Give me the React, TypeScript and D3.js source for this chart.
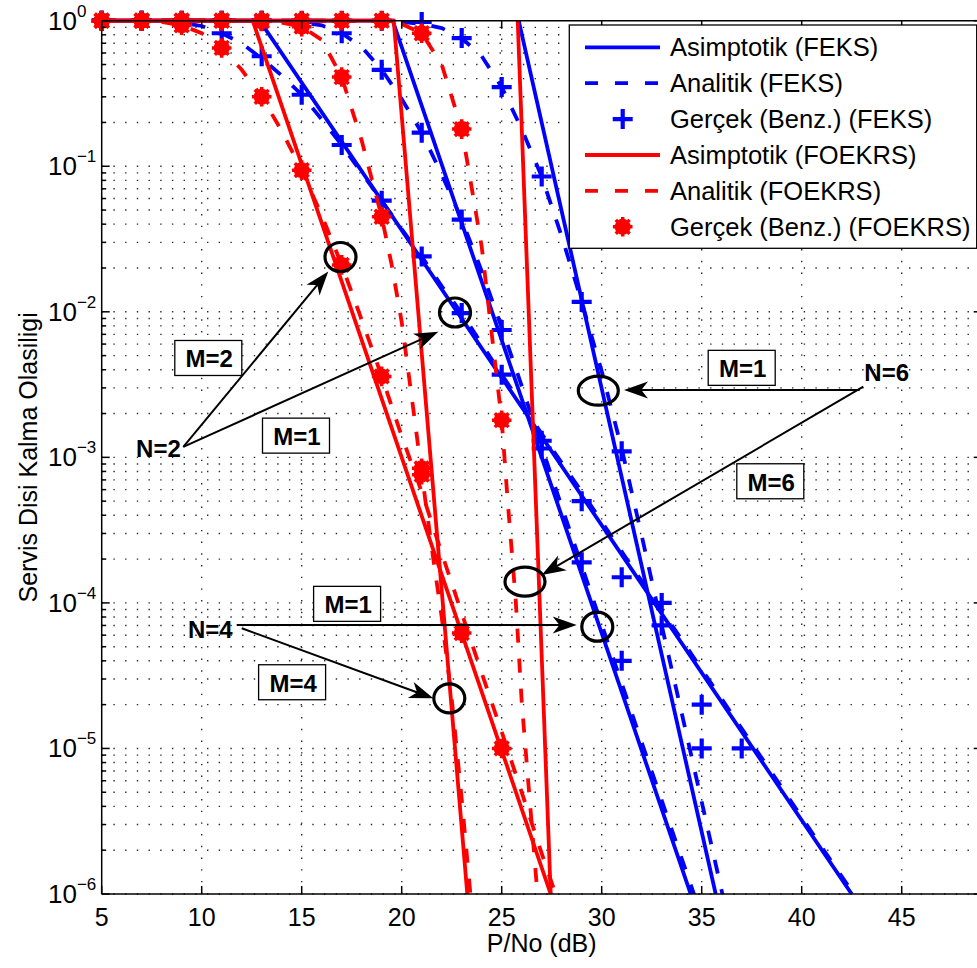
import React from 'react';
import * as d3 from 'd3';

// ---------------- DATA (P/No in dB, outage probability) ----------------
// FEKS (blue)
const feksN2AsymX = [5, 12.9, 42.5];
const feksN2AsymY = [1, 1, 1e-6];
const feksN4AsymX = [5, 19.55, 34.45];
const feksN4AsymY = [1, 1, 1e-6];
const feksN6AsymX = [25.85, 35.7];
const feksN6AsymY = [1, 1e-6];

const feksN2AnaX = [5, 7, 8, 9, 10, 11, 12, 13, 14, 15, 16, 17, 18, 19, 20, 21, 22, 23, 24, 25, 27, 29, 31, 33, 35, 37, 39, 41, 43];
const feksN2AnaY = [1, 0.998, 0.99, 0.97, 0.92, 0.82, 0.7, 0.55, 0.42, 0.31, 0.21, 0.14, 0.09, 0.058, 0.037, 0.024, 0.015, 0.0098, 0.006, 0.0037, 0.00145, 5.8e-4, 2.25e-4, 8.9e-5, 3.5e-5, 1.37e-5, 5.4e-6, 2.1e-6, 8.3e-7];
const feksN4AnaX = [5, 10, 12, 13, 14, 15, 16, 17, 18, 19, 20, 21, 22, 23, 24, 25, 26, 27, 28, 29, 30, 31, 32, 33, 34, 35];
const feksN4AnaY = [1, 1, 0.999, 0.997, 0.99, 0.97, 0.93, 0.82, 0.66, 0.46, 0.29, 0.17, 0.088, 0.043, 0.019, 0.0078, 0.0031, 0.00118, 4.6e-4, 1.8e-4, 7.1e-5, 2.8e-5, 1.1e-5, 4.4e-6, 1.75e-6, 7e-7];
const feksN6AnaX = [5, 15, 17, 18, 19, 20, 21, 22, 23, 24, 25, 26, 27, 28, 29, 30, 31, 32, 33, 34, 35, 36, 36.5];
const feksN6AnaY = [1, 1, 0.999, 0.997, 0.99, 0.98, 0.95, 0.89, 0.76, 0.57, 0.35, 0.18, 0.085, 0.033, 0.0117, 0.0039, 0.00115, 2.9e-4, 7.0e-5, 1.75e-5, 4.3e-6, 1.05e-6, 5.2e-7];

const feksN2SimX = [5, 7, 9, 11, 13, 15, 17, 19, 21, 23, 25, 27, 29, 31, 33, 35, 37];
const feksN2SimY = [1, 1, 0.97, 0.82, 0.57, 0.31, 0.14, 0.058, 0.024, 0.0098, 0.0037, 0.0013, 5.0e-4, 1.5e-4, 1.0e-4, 2.0e-5, 1.0e-5];
const feksN4SimX = [5, 7, 9, 11, 13, 15, 17, 19, 21, 23, 25, 27, 29, 31];
const feksN4SimY = [1, 1, 1, 1, 1, 0.98, 0.82, 0.46, 0.17, 0.043, 0.0075, 0.00115, 1.9e-4, 4.0e-5];
const feksN6SimX = [5, 7, 9, 11, 13, 15, 17, 19, 21, 23, 25, 27, 29, 31, 33, 35];
const feksN6SimY = [1, 1, 1, 1, 1, 1, 1, 1, 0.98, 0.76, 0.35, 0.085, 0.0117, 0.0011, 7.0e-5, 1.0e-5];

// FOEKRS (red)
const foekrsN2M2AsymX = [5, 12.55, 27.45];
const foekrsN2M2AsymY = [1, 1, 1e-6];
const foekrsN4M4AsymX = [5, 19.6, 23.28];
const foekrsN4M4AsymY = [1, 1, 1e-6];
const foekrsN6M6AsymX = [25.8, 27.45];
const foekrsN6M6AsymY = [1, 1e-6];

const foekrsN2M2AnaX = [5, 7, 8, 9, 10, 11, 12, 13, 14, 15, 16, 17, 18, 19, 20, 21, 22, 23, 24, 25, 26, 27, 28];
const foekrsN2M2AnaY = [1, 0.995, 0.98, 0.93, 0.82, 0.65, 0.46, 0.3, 0.175, 0.094, 0.046, 0.021, 0.0088, 0.0036, 0.0014, 5.8e-4, 2.2e-4, 8.5e-5, 3.3e-5, 1.3e-5, 5.0e-6, 1.9e-6, 7.5e-7];
const foekrsN4M4AnaX = [5, 10, 12, 13, 14, 15, 16, 17, 18, 19, 19.5, 20, 20.5, 21, 21.5, 22, 22.5, 23, 23.5];
const foekrsN4M4AnaY = [1, 1, 0.999, 0.995, 0.97, 0.91, 0.74, 0.41, 0.15, 0.045, 0.021, 0.0085, 0.0026, 7.8e-4, 2.4e-4, 8.0e-5, 2.2e-5, 4.5e-6, 8.0e-7];
const foekrsN6M6AnaX = [5, 15, 17, 18, 19, 20, 21, 22, 23, 24, 25, 25.3, 25.7, 26, 26.35, 26.7, 27];
const foekrsN6M6AnaY = [1, 1, 0.999, 0.997, 0.99, 0.95, 0.82, 0.5, 0.18, 0.028, 0.0018, 5.0e-4, 1.05e-4, 2.1e-5, 5.4e-6, 1.4e-6, 4.5e-7];

const foekrsN2M2SimX = [5, 7, 9, 11, 13, 15, 17, 19, 21, 23, 25];
const foekrsN2M2SimY = [1, 1, 0.93, 0.65, 0.3, 0.094, 0.021, 0.0036, 7.6e-4, 6.2e-5, 1.0e-5];
const foekrsN4M4SimX = [5, 7, 9, 11, 13, 15, 17, 19, 21];
const foekrsN4M4SimY = [1, 1, 1, 1, 0.99, 0.91, 0.41, 0.045, 8.4e-4];
const foekrsN6M6SimX = [5, 7, 9, 11, 13, 15, 17, 19, 21, 23, 25];
const foekrsN6M6SimY = [1, 1, 1, 1, 1, 1, 1, 1, 0.82, 0.18, 0.0018];

// Axis ticks
const xTicks = [5, 10, 15, 20, 25, 30, 35, 40, 45];
const yTickExponents = [0, -1, -2, -3, -4, -5, -6];

// Legend entries
const legendLabels = [
  'Asimptotik (FEKS)',
  'Analitik (FEKS)',
  'Gerçek (Benz.) (FEKS)',
  'Asimptotik (FOEKRS)',
  'Analitik (FOEKRS)',
  'Gerçek (Benz.) (FOEKRS)',
];

// Annotations (data coordinates)
const ellipseCenters: [number, number][] = [
  [16.94, 0.0238],
  [22.665, 0.00989],
  [29.83, 0.00287],
  [26.165, 1.4e-4],
  [29.78, 6.86e-5],
  [22.38, 2.21e-5],
];
const arrowSegments: [[number, number], [number, number]][] = [
  [[9.08, 1.18e-3], [16.33, 0.0189]],
  [[9.08, 1.18e-3], [21.83, 0.0073]],
  [[11.75, 7.05e-5], [28.75, 7.05e-5]],
  [[12.0, 6.69e-5], [21.58, 2.21e-5]],
  [[42.9, 2.9e-3], [31.115, 2.9e-3]],
  [[43.08, 3.06e-3], [27.0, 1.556e-4]],
];
const nLabels: { text: string; at: [number, number] }[] = [
  { text: 'N=2', at: [7.835, 1.005e-3] },
  { text: 'N=4', at: [10.43, 5.74e-5] },
  { text: 'N=6', at: [44.25, 3.35e-3] },
];
const mBoxes: { text: string; at: [number, number] }[] = [
  { text: 'M=2', at: [10.33, 4.816e-3] },
  { text: 'M=1', at: [14.715, 1.41e-3] },
  { text: 'M=1', at: [17.27, 9.85e-5] },
  { text: 'M=4', at: [14.52, 2.85e-5] },
  { text: 'M=1', at: [37.0, 4.12e-3] },
  { text: 'M=6', at: [38.43, 6.85e-4] },
];

// ---------------- LAYOUT ----------------
const W = 977;
const H = 968;
const PL = 101.7;
const PR = 981.7;
const PT = 20.7;
const PB = 894;
const BLUE = '#0000ff';
const RED = '#ff0000';
const FONT = '"Liberation Sans", Arial, Helvetica, sans-serif';
const LW = 3.8;
const DASH = '14 16';

const zip = (xs: number[], ys: number[]) => xs.map((v, i) => [v, ys[i]] as [number, number]);

type Kind = 'solid' | 'dashed' | 'plus' | 'star';
interface Series { pts: [number, number][]; color: string; kind: Kind }

const series: Series[] = [
  { pts: zip(feksN2AsymX, feksN2AsymY), color: BLUE, kind: 'solid' },
  { pts: zip(feksN4AsymX, feksN4AsymY), color: BLUE, kind: 'solid' },
  { pts: zip(feksN6AsymX, feksN6AsymY), color: BLUE, kind: 'solid' },
  { pts: zip(feksN2AnaX, feksN2AnaY), color: BLUE, kind: 'dashed' },
  { pts: zip(feksN4AnaX, feksN4AnaY), color: BLUE, kind: 'dashed' },
  { pts: zip(feksN6AnaX, feksN6AnaY), color: BLUE, kind: 'dashed' },
  { pts: zip(feksN2SimX, feksN2SimY), color: BLUE, kind: 'plus' },
  { pts: zip(feksN4SimX, feksN4SimY), color: BLUE, kind: 'plus' },
  { pts: zip(feksN6SimX, feksN6SimY), color: BLUE, kind: 'plus' },
  { pts: zip(foekrsN2M2AsymX, foekrsN2M2AsymY), color: RED, kind: 'solid' },
  { pts: zip(foekrsN4M4AsymX, foekrsN4M4AsymY), color: RED, kind: 'solid' },
  { pts: zip(foekrsN6M6AsymX, foekrsN6M6AsymY), color: RED, kind: 'solid' },
  { pts: zip(foekrsN2M2AnaX, foekrsN2M2AnaY), color: RED, kind: 'dashed' },
  { pts: zip(foekrsN4M4AnaX, foekrsN4M4AnaY), color: RED, kind: 'dashed' },
  { pts: zip(foekrsN6M6AnaX, foekrsN6M6AnaY), color: RED, kind: 'dashed' },
  { pts: zip(foekrsN2M2SimX, foekrsN2M2SimY), color: RED, kind: 'star' },
  { pts: zip(foekrsN4M4SimX, foekrsN4M4SimY), color: RED, kind: 'star' },
  { pts: zip(foekrsN6M6SimX, foekrsN6M6SimY), color: RED, kind: 'star' },
];

const legendStyles: { color: string; kind: Kind }[] = [
  { color: BLUE, kind: 'solid' },
  { color: BLUE, kind: 'dashed' },
  { color: BLUE, kind: 'plus' },
  { color: RED, kind: 'solid' },
  { color: RED, kind: 'dashed' },
  { color: RED, kind: 'star' },
];

const Plus = ({ cx, cy, color }: { cx: number; cy: number; color: string }) => (
  <path d={`M${cx - 10},${cy}H${cx + 10}M${cx},${cy - 10}V${cy + 10}`} stroke={color} strokeWidth={4.2} fill="none" />
);

const Star = ({ cx, cy, color }: { cx: number; cy: number; color: string }) => {
  const spokes = [0, 45, 90, 135].map((a) => {
    const r = (a * Math.PI) / 180;
    const dx = Math.cos(r) * 9.8;
    const dy = Math.sin(r) * 9.8;
    return `M${cx - dx},${cy - dy}L${cx + dx},${cy + dy}`;
  });
  return (
    <g>
      <circle cx={cx} cy={cy} r={8} fill={color} />
      <path d={spokes.join('')} stroke={color} strokeWidth={3.5} />
    </g>
  );
};

export default function App() {
  const x = d3.scaleLinear().domain([5, 49]).range([PL, PR]);
  const y = d3.scaleLog().domain([1e-6, 1]).range([PB, PT]);
  const line = d3
    .line<[number, number]>()
    .x((d) => x(d[0]))
    .y((d) => y(d[1]));

  const yGrid: number[] = [];
  for (let e = -6; e < 0; e++) for (let m = 1; m <= 9; m++) yGrid.push(m * Math.pow(10, e));
  const yMajor = yTickExponents.map((e) => Math.pow(10, e));

  const arrowHead = (tx: number, ty: number, fx: number, fy: number) => {
    const ang = Math.atan2(ty - fy, tx - fx);
    const L = 24;
    const Wd = 8.5;
    const c = Math.cos(ang);
    const s = Math.sin(ang);
    const p = (a: number, b: number) => `${tx + a * c - b * s},${ty + a * s + b * c}`;
    return `M${p(0, 0)}L${p(-L, Wd)}L${p(-L * 0.72, 0)}L${p(-L, -Wd)}Z`;
  };

  return (
    <svg
      width={W}
      height={H}
      viewBox={`0 0 ${W} ${H}`}
      style={{ position: 'absolute', left: 0, top: 0, background: '#fff' }}
      fontFamily={FONT}
    >
      <defs>
        <clipPath id="plotClip">
          <rect x={PL} y={PT - 6} width={PR - PL} height={PB - PT + 6} />
        </clipPath>
      </defs>
      <rect x={0} y={0} width={W} height={H} fill="#fff" />

      {/* grid */}
      <g stroke="#2a2a2a" strokeWidth={1.4} strokeDasharray="1.4 10.3">
        {xTicks.slice(1).map((t) => (
          <line key={'gx' + t} x1={x(t)} x2={x(t)} y1={PB} y2={PT} />
        ))}
        {yGrid.map((v, i) => (
          <line key={'gy' + i} x1={PL} x2={PR} y1={y(v)} y2={y(v)} />
        ))}
      </g>

      {/* data */}
      {series.map((s, i) => {
        if (s.kind === 'solid' || s.kind === 'dashed') {
          return (
            <path
              key={'s' + i}
              clipPath="url(#plotClip)"
              d={line(s.pts) || ''}
              fill="none"
              stroke={s.color}
              strokeWidth={LW}
              strokeDasharray={s.kind === 'dashed' ? DASH : undefined}
            />
          );
        }
        return (
          <g key={'s' + i}>
            {s.pts.map((p, j) =>
              s.kind === 'plus' ? (
                <Plus key={j} cx={x(p[0])} cy={y(p[1])} color={s.color} />
              ) : (
                <Star key={j} cx={x(p[0])} cy={y(p[1])} color={s.color} />
              )
            )}
          </g>
        );
      })}

      {/* axes frame */}
      <g stroke="#000" strokeWidth={1.5} fill="none">
        <line x1={PL} x2={PL} y1={PT} y2={PB} />
        <line x1={PR} x2={PR} y1={PT} y2={PB} />
        <line x1={PL} x2={PR} y1={PT} y2={PT} />
        <line x1={PL} x2={PR} y1={PB} y2={PB} />
        {xTicks.map((t) => (
          <g key={'tx' + t}>
            <line x1={x(t)} x2={x(t)} y1={PB} y2={PB - 8} />
            <line x1={x(t)} x2={x(t)} y1={PT} y2={PT + 8} />
          </g>
        ))}
        {yGrid.concat([1]).map((v, i) => {
          const major = yMajor.some((m) => Math.abs(m - v) / m < 1e-9);
          const len = major ? 8 : 4.5;
          return (
            <g key={'ty' + i}>
              <line x1={PL} x2={PL + len} y1={y(v)} y2={y(v)} />
              <line x1={PR} x2={PR - len} y1={y(v)} y2={y(v)} />
            </g>
          );
        })}
      </g>

      {/* tick labels */}
      <g fill="#000">
        {xTicks.map((t) => (
          <text key={'lx' + t} x={x(t)} y={926} fontSize={25} textAnchor="middle">
            {t}
          </text>
        ))}
        {yTickExponents.map((e) => (
          <text key={'ly' + e} x={48} y={y(Math.pow(10, e)) + 9} fontSize={26}>
            <tspan>10</tspan>
            <tspan dy={-13} fontSize={17}>
              {e === 0 ? '0' : '\u2212' + Math.abs(e)}
            </tspan>
          </text>
        ))}
        <text x={(PL + PR) / 2} y={952} fontSize={25} textAnchor="middle">
          P/No (dB)
        </text>
        <text transform={`translate(37,${(PT + PB) / 2}) rotate(-90)`} fontSize={25} textAnchor="middle">
          Servis Disi Kalma Olasiligi
        </text>
      </g>

      {/* annotations */}
      <g>
        {ellipseCenters.map((c, i) => {
          const rx = i === 2 || i === 3 ? 20 : 15.5;
          return (
            <ellipse key={'e' + i} cx={x(c[0])} cy={y(c[1])} rx={rx} ry={14.5} fill="none" stroke="#000" strokeWidth={3.2} />
          );
        })}
        {arrowSegments.map((seg, i) => {
          const fx = x(seg[0][0]);
          const fy = y(seg[0][1]);
          const tx = x(seg[1][0]);
          const ty = y(seg[1][1]);
          const ang = Math.atan2(ty - fy, tx - fx);
          const ex = tx - Math.cos(ang) * 14;
          const ey = ty - Math.sin(ang) * 14;
          return (
            <g key={'a' + i}>
              <line x1={fx} y1={fy} x2={ex} y2={ey} stroke="#000" strokeWidth={2} />
              <path d={arrowHead(tx, ty, fx, fy)} fill="#000" />
            </g>
          );
        })}
        {nLabels.map((l, i) => (
          <text key={'n' + i} x={x(l.at[0])} y={y(l.at[1])} fontSize={24} fontWeight="bold" textAnchor="middle">
            {l.text}
          </text>
        ))}
        {mBoxes.map((b, i) => {
          const cx = x(b.at[0]);
          const cy = y(b.at[1]);
          return (
            <g key={'m' + i}>
              <rect x={cx - 33.5} y={cy - 17.5} width={67} height={35} fill="#fff" stroke="#000" strokeWidth={1.3} />
              <text x={cx + 1} y={cy + 9.5} fontSize={24} fontWeight="bold" textAnchor="middle">
                {b.text}
              </text>
            </g>
          );
        })}
      </g>

      {/* legend */}
      <g>
        <rect x={569.3} y={25} width={407.4} height={223.3} fill="#fff" stroke="#000" strokeWidth={1.3} />
        {legendLabels.map((lab, i) => {
          const cy = 47.3 + i * 35.9;
          const st = legendStyles[i];
          return (
            <g key={'lg' + i}>
              {st.kind === 'solid' || st.kind === 'dashed' ? (
                <line
                  x1={585}
                  x2={660}
                  y1={cy}
                  y2={cy}
                  stroke={st.color}
                  strokeWidth={LW}
                  strokeDasharray={st.kind === 'dashed' ? '13 17' : undefined}
                />
              ) : st.kind === 'plus' ? (
                <Plus cx={622.7} cy={cy} color={st.color} />
              ) : (
                <Star cx={622.7} cy={cy} color={st.color} />
              )}
              <text x={670} y={cy + 9} fontSize={25.5}>
                {lab}
              </text>
            </g>
          );
        })}
      </g>
    </svg>
  );
}
